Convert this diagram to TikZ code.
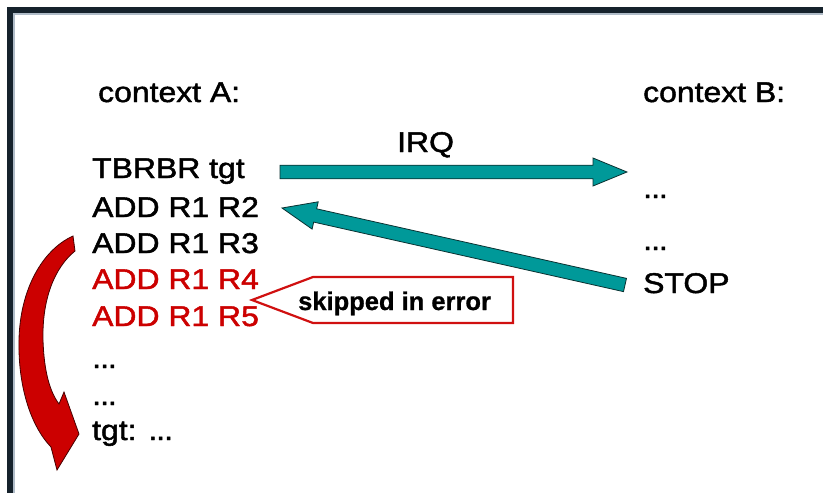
\documentclass[tikz,border=0pt]{standalone}
\usepackage{fontspec}
\setmainfont{Liberation Sans}[FakeStretch=1.12,FakeBold=1.6]
\newfontfamily\callfont{Liberation Sans}[FakeBold=0.8]
\usetikzlibrary{calc}
\definecolor{framedark}{RGB}{22,34,44}
\definecolor{framelight}{RGB}{176,188,200}
\definecolor{errred}{RGB}{204,0,0}
\definecolor{callred}{RGB}{208,16,16}
\definecolor{tealc}{RGB}{0,153,153}
\definecolor{tealdark}{RGB}{10,50,50}
\definecolor{arrowline}{RGB}{70,0,0}
\newcommand\dts{.\kern-1pt.\kern-1pt.}
\newcommand\blockarrow[2]{%
  \coordinate (hb) at ($(#2)!34pt!(#1)$);
  \filldraw[tealarr] ($(#1)!6.8pt!90:(#2)$) -- ($(hb)!6.8pt!90:(#2)$) -- ($(hb)!14pt!90:(#2)$) -- (#2)
    -- ($(hb)!14pt!-90:(#2)$) -- ($(hb)!6.8pt!-90:(#2)$) -- ($(#1)!6.8pt!-90:(#2)$) -- cycle;}
\begin{document}
\begin{tikzpicture}[x=1pt,y=-1pt,
  txt/.style={anchor=base west, inner sep=0, font=\fontsize{28.5}{32}\selectfont},
  errtxt/.style={txt, text=errred},
  tealarr/.style={fill=tealc, draw=tealdark, line width=0.8pt, line join=miter},
  redarr/.style={fill=errred, draw=arrowline, line width=0.8pt, line join=miter},
  callout/.style={draw=callred, line width=2.2pt, fill=white, line join=miter}]
\useasboundingbox (0,0) rectangle (823,493);
\fill[white] (0,0) rectangle (823,493);
% frame
\fill[framedark] (7,7) rectangle (823,13);
\fill[framedark] (7,7) rectangle (13,493);
\fill[framelight] (13,13) rectangle (823,15);
\fill[framelight] (13,13) rectangle (15,493);
% headers
\node[txt] (ctxA) at (98,102) {context A:};
\node[txt] (ctxB) at (643,102) {context B:};
\node[txt] (irq) at (397,152) {IRQ};
% context A lines
\node[txt] (l1) at (92,178) {TBRBR tgt};
\node[txt] (l2) at (92,217) {ADD R1 R2};
\node[txt] (l3) at (92,253) {ADD R1 R3};
\node[errtxt] (l4) at (92,289) {ADD R1 R4};
\node[errtxt] (l5) at (92,326) {ADD R1 R5};
\node[txt] (l6) at (92,368) {\dts};
\node[txt] (l7) at (92,405) {\dts};
\node[txt] (l8) at (92,440) {tgt: \dts};
% context B lines
\node[txt] (b1) at (643,198) {\dts};
\node[txt] (b2) at (643,250) {\dts};
\node[txt] (b3) at (643,293) {STOP};
% teal arrows
\coordinate (irqS) at (280,172);
\coordinate (irqE) at (627,172);
\coordinate (retS) at (625,285);
\coordinate (retE) at (282,208);
\blockarrow{irqS}{irqE}
\blockarrow{retS}{retE}
% callout
\coordinate (ctip) at (252,300);
\filldraw[callout] (ctip) -- (313,277) -- (513,277) -- (513,323) -- (313,323) -- cycle;
\node[anchor=base west, inner sep=0, font=\callfont\bfseries\fontsize{25.5}{28}\selectfont] (skip) at (298,310) {skipped in error};
% red curved arrow
\filldraw[redarr] (73,236) -- (75,251) .. controls (54,268) and (42,300) .. (43,340)
  .. controls (44,372) and (50,392) .. (59,404) -- (64,392) -- (79,434) -- (57,470) -- (51,447)
  .. controls (30,425) and (18,385) .. (19,340) .. controls (20,290) and (42,250) .. (73,236) -- cycle;
\end{tikzpicture}
\end{document}
